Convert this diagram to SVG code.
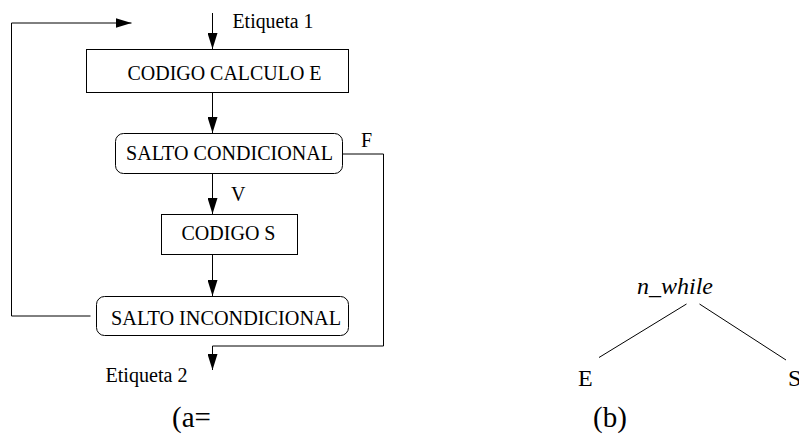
<svg xmlns="http://www.w3.org/2000/svg" width="799" height="443" viewBox="0 0 799 443">
<style>
text{font-family:"Liberation Serif",Tinos,"Nimbus Roman","Nimbus Roman No9 L","Noto Serif","DejaVu Serif",serif;fill:#000}
.lbl{font-size:20px}
.big{font-size:24px}
.cap{font-size:29px}
.box{fill:#fff;stroke:#000;stroke-width:1}
.ln{fill:none;stroke:#000;stroke-width:1}
</style>
<defs>
<marker id="ah" markerUnits="userSpaceOnUse" markerWidth="16" markerHeight="10" refX="16" refY="5" orient="auto">
<path d="M0,0 L16,5 L0,10 z" fill="#000"/>
</marker>
</defs>
<rect width="799" height="443" fill="#fff"/>
<g id="connectors">
<path class="ln" d="M212.5,13 V49" marker-end="url(#ah)"/>
<path class="ln" d="M212.5,93 V133" marker-end="url(#ah)"/>
<path class="ln" d="M212.5,174 V214" marker-end="url(#ah)"/>
<path class="ln" d="M212.5,255 V296" marker-end="url(#ah)"/>
<path class="ln" d="M342.5,154 H383.5 V346 H212.5 V370" marker-end="url(#ah)"/>
<path class="ln" d="M90.5,316 H11.5 V23 H131.5" marker-end="url(#ah)"/>
<path class="ln" d="M686.5,304 L599,357.5"/>
<path class="ln" d="M699.5,304 L786,360"/>
</g>
<g id="etiqueta1"><text class="lbl" x="232.5" y="28" textLength="81" lengthAdjust="spacingAndGlyphs">Etiqueta 1</text></g>
<g id="codigo-calculo-e">
<rect class="box" x="86.5" y="49.5" width="262" height="43"/>
<text class="lbl" x="127.5" y="80" textLength="194" lengthAdjust="spacingAndGlyphs">CODIGO CALCULO E</text>
</g>
<g id="salto-condicional">
<rect class="box" x="115.5" y="133.5" width="227" height="40" rx="8"/>
<text class="lbl" x="126" y="160" textLength="207" lengthAdjust="spacingAndGlyphs">SALTO CONDICIONAL</text>
</g>
<g id="label-f"><text class="lbl" x="361" y="147">F</text></g>
<g id="label-v"><text class="lbl" x="231" y="201">V</text></g>
<g id="codigo-s">
<rect class="box" x="161.5" y="214.5" width="136" height="40"/>
<text class="lbl" x="181.5" y="240" textLength="94" lengthAdjust="spacingAndGlyphs">CODIGO S</text>
</g>
<g id="salto-incondicional">
<rect class="box" x="96.5" y="296.5" width="252" height="39" rx="8"/>
<text class="lbl" x="111" y="325" textLength="230" lengthAdjust="spacingAndGlyphs">SALTO INCONDICIONAL</text>
</g>
<g id="etiqueta2"><text class="lbl" x="105.5" y="382" textLength="82" lengthAdjust="spacingAndGlyphs">Etiqueta 2</text></g>
<g id="caption-a"><text class="cap" x="172" y="427">(a=</text></g>
<g id="n-while"><text class="big" x="637" y="294" font-style="italic" textLength="76" lengthAdjust="spacingAndGlyphs">n_while</text></g>
<g id="node-e"><text class="big" x="578" y="386">E</text></g>
<g id="node-s"><text class="big" x="788" y="386">S</text></g>
<g id="caption-b"><text class="cap" x="593" y="427">(b)</text></g>
</svg>
